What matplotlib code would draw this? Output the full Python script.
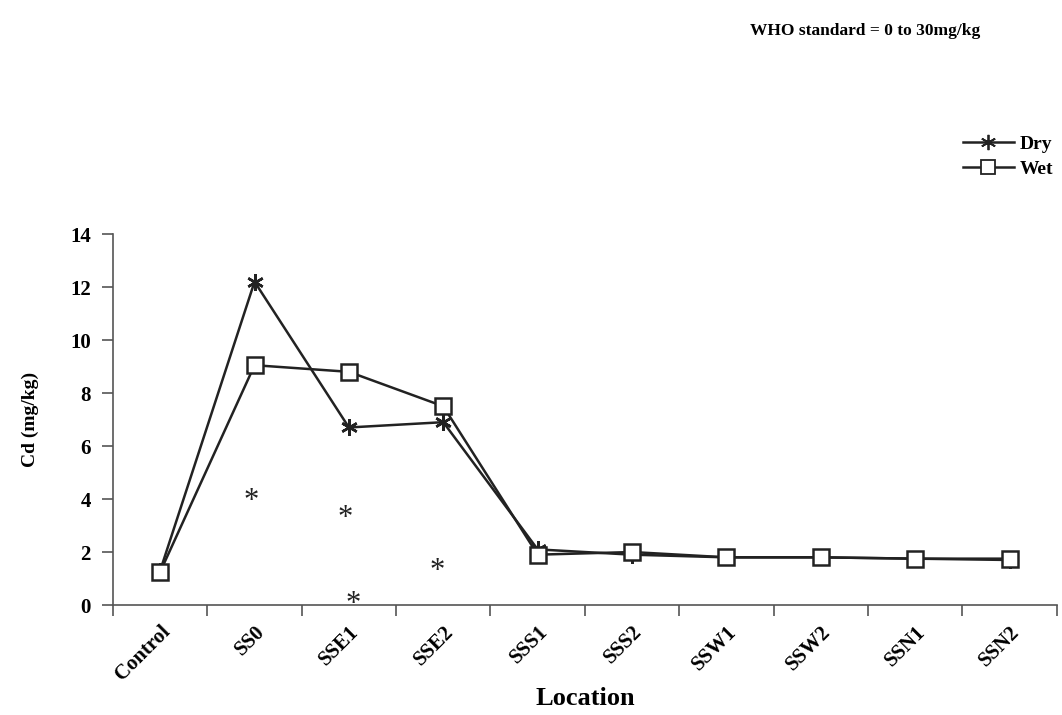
import numpy as np
from matplotlib import pyplot as plt
from matplotlib.lines import Line2D

#---------------------------------DATA----------------------------------------------------------------
locations = ['Control', 'SS0', 'SSE1', 'SSE2', 'SSS1', 'SSS2', 'SSW1', 'SSW2', 'SSN1', 'SSN2']
dry = [1.3, 12.2, 6.7, 6.9, 2.1, 1.9, 1.8, 1.8, 1.75, 1.7]
wet = [1.25, 9.05, 8.8, 7.5, 1.9, 2.0, 1.8, 1.8, 1.75, 1.75]

# significance asterisks (x in category units, y in mg/kg)
star_x = [0.96, 1.96, 2.05, 2.93]
star_y = [4.15, 3.5, 0.25, 1.5]

#---------------------------------PLOT----------------------------------------------------------------
plt.rcParams['font.family'] = ['Liberation Serif', 'DejaVu Serif']
plt.rcParams['font.weight'] = 'bold'

fig = plt.figure(figsize=(10.62, 7.15), dpi=100)
ax = fig.add_axes([0.1064, 0.1538, 0.8886, 0.5189])

x = np.arange(len(locations))
ast = (6, 2, 0)
ax.plot(x, dry, color='#222222', lw=1.8, marker=ast, ms=12, mew=1.8, mec='#222222', label='Dry')
ax.plot(x, wet, color='#222222', lw=1.8, marker='s', ms=11, mew=1.8, mfc='white', mec='#222222', label='Wet')

for sx, sy in zip(star_x, star_y):
    ax.text(sx, sy, '*', ha='center', va='center', fontsize=22, fontweight='normal', color='#222222',
            transform=ax.transData + plt.matplotlib.transforms.ScaledTranslation(0, -0.06, fig.dpi_scale_trans))

ax.set_xlim(-0.5, len(locations) - 0.5)
ax.set_ylim(0, 14)
ax.set_yticks(np.arange(0, 15, 2))
ax.set_xticks(np.arange(-0.5, len(locations), 1))
ax.set_xticklabels([])
ax.set_xticks(x, minor=True)
ax.set_xticklabels(locations, minor=True, rotation=45, ha='right', va='top',
                   rotation_mode='anchor', fontsize=15, fontweight='bold')
ax.tick_params(axis='x', which='minor', length=0, pad=12)
ax.tick_params(axis='x', which='major', length=8, width=1.2, color='#555555')
ax.tick_params(axis='y', length=8, width=1.2, color='#555555', labelsize=15, pad=8)
for lab in ax.get_yticklabels():
    lab.set_fontweight('bold')
for s in ['top', 'right']:
    ax.spines[s].set_visible(False)
for s in ['left', 'bottom']:
    ax.spines[s].set_color('#555555')
    ax.spines[s].set_linewidth(1.2)

ax.set_xlabel('Location', fontsize=19, fontweight='bold', labelpad=2)
ax.set_ylabel('Cd (mg/kg)', fontsize=14, fontweight='bold', labelpad=22)

fig.text(0.815, 0.957, 'WHO standard = 0 to 30mg/kg', ha='center', va='center',
         fontsize=12.5, fontweight='bold')

handles = [Line2D([], [], color='#222222', lw=1.8, marker=ast, ms=11, mew=1.3),
           Line2D([], [], color='#222222', lw=1.8, marker='s', ms=10, mew=1.3, mfc='white')]
fig.legend(handles, ['Dry', 'Wet'], loc='upper right', bbox_to_anchor=(1.008, 0.835),
           frameon=False, handlelength=2.6, handletextpad=0.3, labelspacing=0.35,
           prop={'weight': 'bold', 'size': 14})

fig.savefig('out.png', dpi=100)
